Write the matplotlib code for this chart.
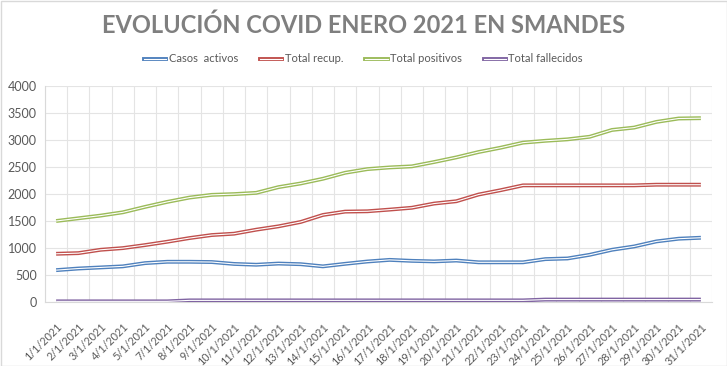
import matplotlib
matplotlib.use("Agg")
import matplotlib.pyplot as plt
from matplotlib.lines import Line2D
from matplotlib.legend_handler import HandlerTuple
from matplotlib.patches import Rectangle

dates = ["1/1/2021", "2/1/2021", "3/1/2021", "4/1/2021", "5/1/2021", "7/1/2021",
         "8/1/2021", "9/1/2021", "10/1/2021", "11/1/2021", "12/1/2021", "13/1/2021",
         "14/1/2021", "15/1/2021", "16/1/2021", "17/1/2021", "18/1/2021", "19/1/2021",
         "20/1/2021", "21/1/2021", "22/1/2021", "23/1/2021", "24/1/2021", "25/1/2021",
         "26/1/2021", "27/1/2021", "28/1/2021", "29/1/2021", "30/1/2021", "31/1/2021"]

casos_activos = [590, 620, 640, 660, 720, 745, 745, 740, 705, 690, 712, 700,
                 660, 707, 750, 780, 762, 752, 768, 735, 735, 735, 794, 806,
                 874, 967, 1029, 1122, 1172, 1190]
total_recup = [893, 905, 967, 998, 1054, 1116, 1184, 1240, 1265, 1339, 1401, 1482,
               1612, 1674, 1680, 1711, 1745, 1823, 1866, 1990, 2071, 2160, 2160, 2160,
               2160, 2160, 2160, 2172, 2172, 2172]
total_positivos = [1500, 1550, 1600, 1661, 1761, 1854, 1934, 1984, 1998, 2021, 2127, 2195,
                   2282, 2393, 2461, 2492, 2512, 2592, 2678, 2777, 2858, 2951, 2985, 3012,
                   3060, 3186, 3230, 3335, 3398, 3404]
total_fallecidos = [12, 12, 12, 12, 12, 12, 30, 30, 30, 30, 30, 30,
                    30, 30, 30, 30, 30, 30, 30, 30, 30, 30, 45, 45,
                    45, 45, 45, 45, 45, 45]

series_names = ["Casos  activos", "Total recup.", "Total positivos", "Total fallecidos"]
series_vals = [casos_activos, total_recup, total_positivos, total_fallecidos]
colors = ["#4F81BD", "#C0504D", "#9BBB59", "#8064A2"]

plt.rcParams['font.family'] = ['Lato', 'DejaVu Sans']

fig = plt.figure(figsize=(7.27, 3.66), dpi=100)
fig.patch.set_facecolor("white")
ax = fig.add_axes([45/727, 1-302/366, (712-45)/727, (302-86)/366])

x = list(range(len(dates)))
handles = []
for name, vals, c in zip(series_names, series_vals, colors):
    ax.plot(x, vals, color=c, lw=2.8, solid_joinstyle='round', solid_capstyle='butt', zorder=3)
    ax.plot(x, vals, color="white", lw=0.8, solid_joinstyle='round', solid_capstyle='butt', zorder=4)
    handles.append((Line2D([], [], color=c, lw=2.8), Line2D([], [], color="white", lw=0.8)))

ax.set_xlim(-0.5, len(dates) - 0.5)
ax.set_ylim(0, 4000)
ax.set_yticks(range(0, 4001, 500))
ax.set_xticks(x)
ax.set_xticklabels(dates, rotation=45, ha='right', rotation_mode='anchor')
ax.set_xticks([i - 0.5 for i in range(len(dates) + 1)], minor=True)
ax.grid(True, which='minor', axis='x', color='#e4e4e4', lw=0.8)
ax.grid(True, which='major', axis='y', color='#e4e4e4', lw=0.8)
ax.tick_params(axis='both', which='both', length=0)
ax.tick_params(axis='y', labelsize=9, colors='#595959', pad=6)
ax.tick_params(axis='x', labelsize=7.8, colors='#595959', pad=14)
for s in ['top', 'right']:
    ax.spines[s].set_visible(False)
ax.spines['left'].set_color('#d9d9d9')
ax.spines['bottom'].set_color('#d9d9d9')
ax.set_axisbelow(True)

fig.text(0.5, 1 - 25/366, "EVOLUCIÓN COVID ENERO 2021 EN SMANDES", ha='center', va='center',
         fontsize=17, fontweight='bold', color='#7f7f7f')

fig.legend(handles, series_names, handler_map={tuple: HandlerTuple(ndivide=1, pad=0)},
           loc='center', bbox_to_anchor=(0.5, 1 - 59/366), ncol=4, frameon=False,
           fontsize=8, labelcolor='#595959', handlelength=2.0, handletextpad=0.2,
           columnspacing=2.0)

fig.patches.append(Rectangle((0.5/727, 0.5/366), 1 - 1/727, 1 - 1/366, transform=fig.transFigure,
                             fill=False, edgecolor='#d9d9d9', lw=1))

fig.savefig("out.png", dpi=100)
